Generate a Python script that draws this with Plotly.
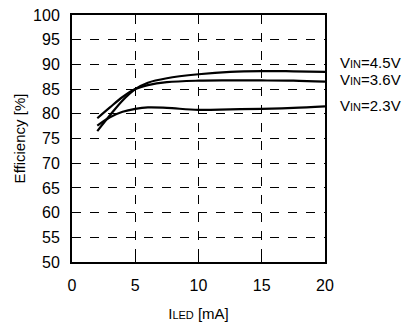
import plotly.graph_objects as go

# LED current [mA]
i_led = [2, 3, 4, 5, 6, 7.5, 10, 12.5, 15, 17.5, 20]

# efficiency [%] for each input voltage
eff_45 = [76.5, 79.7, 82.7, 85.0, 86.3, 87.2, 88.0, 88.5, 88.65, 88.6, 88.5]
eff_36 = [79.1, 81.3, 83.4, 85.0, 85.8, 86.4, 86.7, 86.75, 86.75, 86.7, 86.5]
eff_23 = [77.6, 79.3, 80.4, 81.0, 81.3, 81.2, 80.8, 80.9, 81.0, 81.2, 81.5]

labels = ["V<span style='font-size:11px'>IN</span>=4.5V",
          "V<span style='font-size:11px'>IN</span>=3.6V",
          "V<span style='font-size:11px'>IN</span>=2.3V"]
label_y = [90.4, 86.9, 81.6]

fig = go.Figure()
for ys in (eff_45, eff_36, eff_23):
    fig.add_trace(go.Scatter(x=i_led, y=ys, mode='lines',
                             line=dict(color='black', width=2.2, shape='spline'),
                             showlegend=False, hoverinfo='skip'))

for txt, yy in zip(labels, label_y):
    fig.add_annotation(x=1.052, xref='paper', y=yy, yref='y', text=txt,
                       showarrow=False, xanchor='left',
                       font=dict(size=15, color='black'))

font = "Liberation Sans, Arial, sans-serif"
axis_style = dict(showline=True, linecolor='black', linewidth=2, mirror=True,
                  showgrid=True, gridcolor='black', gridwidth=1, griddash='dash',
                  ticks='inside', ticklen=4, tickcolor='black', zeroline=False,
                  automargin=False, tickfont=dict(size=16, color='black'))

fig.update_layout(
    width=413, height=332,
    margin=dict(l=72, r=88, t=15, b=70),
    paper_bgcolor='white', plot_bgcolor='white',
    font=dict(family=font, color='black'),
    xaxis=dict(range=[0, 20], dtick=5, ticklabelstandoff=8,
               title=dict(text="I<span style='font-size:11px'>LED</span> [mA]",
                          font=dict(size=15), standoff=15),
               **axis_style),
    yaxis=dict(range=[50, 100], dtick=5, ticklabelstandoff=7,
               title=dict(text="Efficiency [%]", font=dict(size=15), standoff=4),
               **axis_style),
)

# page body has a default margin; drop it so the figure sits at the corner
fig.write_html("out.html", config={'displayModeBar': False},
               post_script="document.body.style.margin='0';")
